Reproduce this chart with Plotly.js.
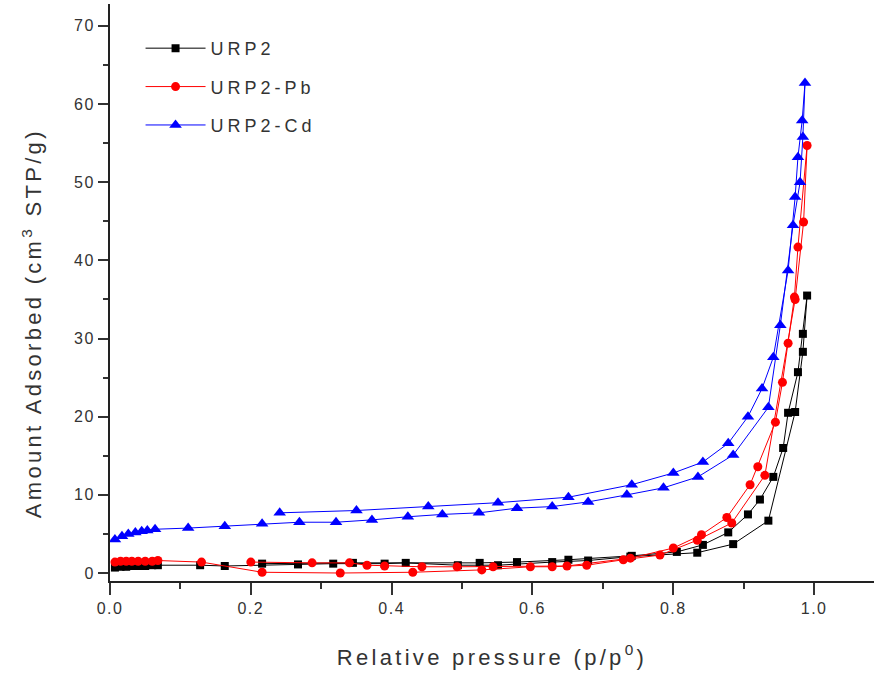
<!DOCTYPE html>
<html>
<head>
<meta charset="utf-8">
<script src="https://cdn.plot.ly/plotly-3.0.1.min.js"></script>
<style>
html,body{margin:0;padding:0;background:#fff;}
#chart{width:874px;height:676px;}
.legendtext{letter-spacing:4px;}
.xtitle,.annotation-text{letter-spacing:3.3px;}
.xtick text,.ytick text{letter-spacing:1.5px;}
</style>
</head>
<body>
<div id="chart"></div>
<script>
// URP2 (black squares)
var urp2AdsX = [0.007,0.015,0.023,0.031,0.040,0.050,0.060,0.068,0.128,0.163,0.267,0.317,0.390,0.420,0.494,0.551,0.628,0.679,0.739,0.834,0.885,0.935,0.973,0.984,0.990];
var urp2AdsY = [0.7,0.8,0.8,0.9,0.9,0.9,1.0,1.0,1.0,0.9,1.1,1.2,1.2,1.3,1.0,1.0,1.4,1.6,2.1,2.6,3.7,6.7,20.6,28.3,35.5];
var urp2DesX = [0.984,0.977,0.963,0.956,0.942,0.923,0.906,0.878,0.842,0.805,0.741,0.651,0.578,0.525,0.345,0.216];
var urp2DesY = [30.6,25.7,20.5,16.0,12.3,9.4,7.5,5.2,3.6,2.7,2.2,1.7,1.4,1.3,1.3,1.2];

// URP2-Pb (red circles)
var pbAdsX = [0.007,0.015,0.023,0.031,0.040,0.050,0.060,0.068,0.130,0.216,0.327,0.430,0.528,0.597,0.628,0.677,0.729,0.781,0.834,0.883,0.930,0.973,0.985,0.990];
var pbAdsY = [1.4,1.5,1.5,1.5,1.5,1.5,1.5,1.6,1.4,0.1,0.0,0.1,0.4,0.8,0.8,1.0,1.7,2.3,4.2,6.4,12.5,35.0,44.9,54.7];
var pbDesX = [0.977,0.972,0.963,0.955,0.945,0.920,0.909,0.876,0.840,0.800,0.739,0.649,0.544,0.493,0.443,0.390,0.365,0.340,0.287,0.200];
var pbDesY = [41.7,35.3,29.4,24.4,19.3,13.6,11.3,7.1,4.9,3.2,1.9,0.9,0.8,0.8,0.8,0.9,1.0,1.3,1.3,1.4];

// URP2-Cd (blue triangles)
var cdAdsX = [0.007,0.017,0.026,0.036,0.045,0.053,0.064,0.111,0.163,0.216,0.269,0.321,0.372,0.423,0.472,0.524,0.578,0.628,0.679,0.734,0.786,0.835,0.885,0.935,0.952,0.970,0.980,0.984,0.987];
var cdAdsY = [4.3,4.7,5.0,5.2,5.35,5.45,5.6,5.75,6.0,6.3,6.5,6.5,6.8,7.2,7.5,7.7,8.3,8.5,9.1,10.0,10.9,12.3,15.1,21.2,31.7,44.5,50.0,55.8,62.7];
var cdDesX = [0.983,0.977,0.973,0.963,0.942,0.926,0.906,0.878,0.842,0.800,0.741,0.651,0.551,0.452,0.350,0.241];
var cdDesY = [57.9,53.2,48.1,38.7,27.6,23.6,20.0,16.6,14.2,12.8,11.3,9.7,9.0,8.5,8.0,7.7];

var seriesNames = ['URP2','URP2-Pb','URP2-Cd'];
var seriesColors = ['#000000','#ff0000','#0000ff'];
var seriesSymbols = ['square','circle','triangle-up'];
var seriesSizes = [8,9,11];

var xs = [urp2AdsX.concat(urp2DesX), pbAdsX.concat(pbDesX), cdAdsX.concat(cdDesX)];
var ys = [urp2AdsY.concat(urp2DesY), pbAdsY.concat(pbDesY), cdAdsY.concat(cdDesY)];

var traces = seriesNames.map(function(n,i){
  return {
    x: xs[i], y: ys[i], name: n, type: 'scatter', mode: 'lines+markers',
    legendgroup: 'g'+i,
    line: {color: seriesColors[i], width: 1},
    marker: {symbol: seriesSymbols[i], size: seriesSizes[i], color: seriesColors[i]}
  };
});

var font = 'Liberation Sans, Arial, sans-serif';
var layout = {
  width: 874, height: 676,
  margin: {l:110, r:0, t:4, b:95},
  paper_bgcolor: '#fff', plot_bgcolor: '#fff',
  showlegend: true,
  legend: {x:0.04, y:0.955, xanchor:'left', yanchor:'top', bgcolor:'rgba(0,0,0,0)',
           font:{family:font, size:18, color:'#333'}, tracegroupgap: 12, itemwidth: 60},
  xaxis: {
    range:[0,1.085], tickvals:[0,0.2,0.4,0.6,0.8,1.0], ticktext:['0.0','0.2','0.4','0.6','0.8','1.0'],
    ticks:'outside', ticklen:12, tickwidth:2, tickcolor:'#333',
    minor:{tickvals:[0.1,0.3,0.5,0.7,0.9], ticks:'outside', ticklen:6, tickwidth:2, tickcolor:'#333'},
    showline:true, linecolor:'#222', linewidth:2, showgrid:false, zeroline:false,
    tickfont:{family:font, size:16, color:'#333'},
    title:{text:'Relative pressure (p/p<sup>0</sup>)', font:{family:font, size:22, color:'#333'}, standoff:33}
  },
  yaxis: {
    range:[-1.02,72.8], tickvals:[0,10,20,30,40,50,60,70],
    ticks:'outside', ticklen:10, tickwidth:2, tickcolor:'#333',
    minor:{tickvals:[5,15,25,35,45,55,65], ticks:'outside', ticklen:5, tickwidth:2, tickcolor:'#333'},
    showline:true, linecolor:'#222', linewidth:2, showgrid:false, zeroline:false,
    tickfont:{family:font, size:16, color:'#333'}
  },
  annotations: [{
    text:'Amount Adsorbed (cm<sup>3</sup> STP/g)', textangle:-90,
    xref:'paper', yref:'paper', x:-0.102, y:0.447, xanchor:'center', yanchor:'middle',
    showarrow:false, font:{family:font, size:22, color:'#333'}
  }]
};

Plotly.newPlot('chart', traces, layout, {displayModeBar:false, staticPlot:true});
</script>
</body>
</html>
